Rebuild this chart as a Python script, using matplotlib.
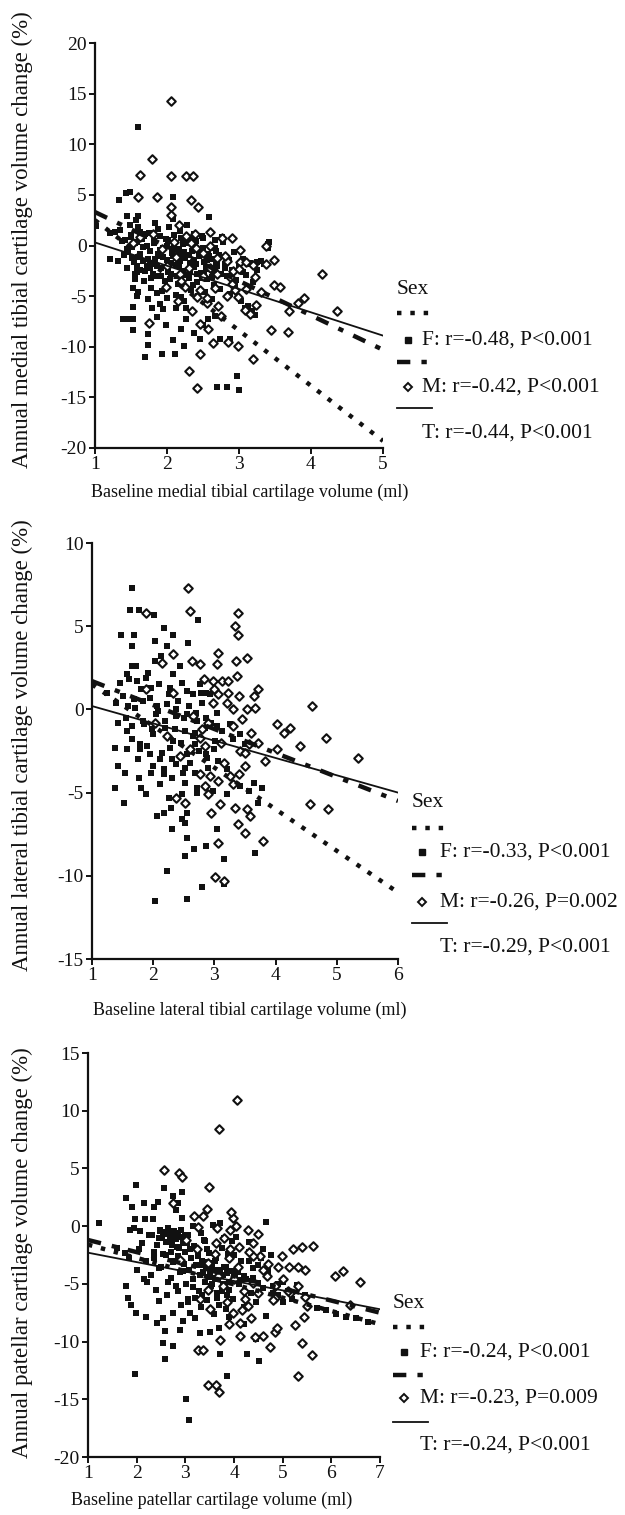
import matplotlib
matplotlib.use("Agg")
import matplotlib.pyplot as plt
from matplotlib.lines import Line2D

plt.rcParams['font.family'] = ['Liberation Serif', 'DejaVu Serif']
plt.rcParams['axes.unicode_minus'] = False

# ---------------- DATA ----------------
sex_groups = ["F", "M", "T"]

# Panel 1: medial tibial
p1_xlabel = "Baseline medial tibial cartilage volume (ml)"
p1_ylabel = "Annual medial tibial cartilage volume change (%)"
p1_xticks = [1, 2, 3, 4, 5]
p1_yticks = [-20, -15, -10, -5, 0, 5, 10, 15, 20]
p1_stats = ["F: r=-0.48, P<0.001", "M: r=-0.42, P<0.001", "T: r=-0.44, P<0.001"]
p1_fit_x = [1, 5]
p1_fit_F = [2.5, -19.3]
p1_fit_M = [3.3, -10.3]
p1_fit_T = [0.3, -8.9]
p1_F_x = [1.6, 1.43, 1.48, 1.34, 2.09, 1.44, 1.6, 1.02, 1.21, 1.28, 1.21, 1.32, 1.37, 1.58, 1.53, 1.58,
          1.53, 1.53, 1.39, 1.45, 1.53, 1.74, 1.74, 1.69, 1.93, 2.11, 2.09, 2.23, 2.2, 1.99, 1.86, 1.95,
          1.79, 2.13, 2.27, 2.2, 2.37, 2.46, 2.5, 2.83, 2.7, 3.0, 2.97, 2.74, 2.88, 2.57, 2.67, 2.27,
          1.86, 1.81,
          1.35, 1.42, 1.45, 1.5, 1.52, 1.55, 1.58, 1.6, 1.62, 1.65, 1.67, 1.7, 1.72, 1.75, 1.77, 1.8,
          1.82, 1.85, 1.87, 1.9, 1.92, 1.95, 1.97, 2.0, 2.02, 2.05, 2.07, 2.1, 2.12, 2.15, 2.17, 2.2,
          2.22, 2.25, 2.27, 2.3, 2.32, 2.35, 2.37, 2.4, 2.42, 2.45, 2.47, 2.5, 2.52, 2.55, 2.57, 2.6,
          2.62, 2.65, 2.68, 2.7, 2.72, 2.75, 2.78, 2.8, 2.83, 2.86, 2.9, 2.93, 2.96, 3.0, 3.05, 3.1,
          3.15, 3.2, 3.25, 3.4, 3.4, 1.4, 1.48, 1.57, 1.63, 1.68, 1.78, 1.83, 1.88, 1.93, 2.03, 2.08,
          2.13, 2.18, 2.23, 2.28, 2.33, 2.38, 2.43, 2.48, 2.53, 2.58, 2.63, 2.67, 2.73, 2.77, 2.88,
          3.03, 3.08, 3.12, 3.22, 3.18, 2.0, 1.9, 1.73, 1.6, 1.55, 1.45]
p1_F_y = [11.7, 5.2, 5.3, 4.5, 4.8, 2.9, 2.9, 1.9, 1.2, 1.3, -1.3, -1.5, 0.4, -2.6, -4.2, -5.0,
          -6.1, -7.3, -7.3, -7.3, -8.3, -8.7, -9.8, -11.0, -10.7, -10.7, -9.3, -9.9, -8.2, -7.9, -7.1, -6.3,
          -6.2, -6.2, -6.2, -5.1, -8.6, -9.2, -7.9, -14.0, -14.0, -14.3, -12.9, -9.2, -9.2, -7.3, -7.0, -7.3,
          -4.7, -2.8,
          1.5, 0.5, -0.3, 1.0, -1.2, 0.2, -2.0, 1.8, -0.8, 0.6, -1.5, -2.5, 0.0, 1.2, -0.5, -1.8,
          0.4, -3.0, -1.0, 0.9, -2.2, -0.2, -3.5, -1.4, 0.5, -2.8, -0.7, 1.0, -1.9, -3.8, -0.3, 0.7,
          -2.5, -1.2, 0.2, -3.2, -1.7, -0.5, -2.1, 0.4, -3.6, -1.0, -2.7, -0.2, -1.6, -3.3, -0.8, -2.3,
          -1.3, -3.9, -0.5, -2.0, -1.1, -2.8, 0.3, -1.8, -3.0, -1.4, -2.4, -0.6, -3.4, -2.0, -1.3, -2.9,
          -1.7, -3.6, -1.6, 0.1, -0.2, -0.9, 2.0, 2.5, 1.3, -3.5, -4.2, 2.2, 1.6, -4.5, 1.8, 2.6,
          -4.9, 1.4, -5.5, 2.0, -4.4, 1.1, -5.0, 0.9, -4.6, 2.8, -5.3, 0.5, -4.3, 0.8, -4.8,
          -5.5, -6.2, -6.0, -6.9, -6.5, -5.2, -5.8, -5.3, -4.6, -3.3, -2.2]
p1_F_x2 = [1.46, 1.50, 1.54, 1.58, 1.62, 1.66, 1.70, 1.74,
           1.78, 1.82, 1.86, 1.90, 1.94, 1.98, 2.02, 2.06,
           2.10, 2.14, 2.18, 2.22, 2.26, 2.30, 2.34, 2.38,
           2.42, 2.46, 2.50, 2.54, 2.58, 2.62, 2.66, 2.70,
           1.52, 1.60, 1.68, 1.76, 1.84, 1.92, 2.00, 2.08,
           2.16, 2.24, 2.32, 2.40, 2.48, 2.56, 2.64, 2.72,
           2.80, 2.95, 3.05, 3.15, 3.25, 3.30, 1.56, 1.72,
           1.88, 2.04, 2.20, 2.36, 2.52, 2.68, 3.35, 3.42]
p1_F_y2 = [-0.6, 0.8, -1.6, 0.3, -2.4, -0.1, 1.1, -1.3,
           -3.2, 0.2, -2.0, -0.4, -1.1, 0.6, -2.6, -1.7,
           -0.1, -3.0, -1.5, 0.1, -2.9, -0.9, 0.5, -1.4,
           -2.8, -0.4, 0.7, -2.2, -1.0, -3.1, -0.2, -1.5,
           -0.1, -1.1, 0.9, -2.2, -1.3, -3.0, 0.0, -1.0,
           -2.0, -0.6, -2.6, -1.8, -3.2, -1.4, -2.6, -0.9,
           -2.2, -3.8, -2.6, -1.8, -2.4, -1.5, -2.8, -2.0,
           -0.8, -3.3, -0.9, -3.9, -2.7, -1.9, -1.8, 0.3]
p1_M_x = [2.05, 1.79, 1.63, 2.05, 2.27, 2.36, 1.6, 1.86, 2.06, 2.06, 2.33, 2.43, 2.17, 2.6, 2.39, 2.77,
          2.9, 3.01, 3.01, 3.1, 3.38, 3.48, 3.38, 3.22, 3.48, 3.57, 4.15, 4.36, 3.9, 3.82, 3.69, 3.68,
          3.45, 3.2, 2.99, 2.46, 2.3, 2.42, 2.85, 2.46, 2.57, 2.64, 2.99, 2.83, 2.71, 1.75, 3.08, 3.24,
          2.67, 2.87, 2.46, 2.18, 1.99, 2.27, 2.34, 2.13, 1.93, 2.5, 2.69, 2.83, 1.81, 1.63, 1.53, 2.6,
          2.92, 2.25, 2.41, 2.55,
          2.0, 2.1, 2.2, 2.3, 2.4, 2.5, 2.6, 2.7, 2.8, 2.9, 3.0, 3.1, 3.2, 3.3, 2.15, 2.35,
          2.55, 2.75, 2.95, 3.15]
p1_M_y = [14.3, 8.5, 7.0, 6.9, 6.9, 6.9, 4.8, 4.8, 3.8, 3.0, 4.5, 3.8, 2.0, 1.3, 1.1, 0.7,
          0.7, -0.4, -1.6, -1.6, -1.8, -1.4, 0.0, -3.1, -3.9, -4.1, -2.8, -6.5, -5.2, -5.7, -6.5, -8.5,
          -8.3, -11.2, -9.9, -10.7, -12.4, -14.1, -9.5, -7.8, -8.2, -9.6, -5.1, -5.0, -6.0, -7.7, -6.4, -5.9,
          -4.2, -3.1, -4.4, -2.8, -4.1, 0.9, 0.2, -1.1, -0.3, -0.7, -1.2, -1.5, 1.1, 0.8, 0.2, -2.2,
          -2.5, -4.1, -5.1, -5.7,
          -2.0, 0.3, -3.5, -2.2, -0.2, -3.0, 0.0, -2.8, -1.0, -3.8, -2.3, -4.3, -1.9, -4.6, -5.5, -6.5,
          -5.2, -7.0, -4.4, -6.8]

# Panel 2: lateral tibial
p2_xlabel = "Baseline lateral tibial cartilage volume (ml)"
p2_ylabel = "Annual lateral tibial cartilage volume change (%)"
p2_xticks = [1, 2, 3, 4, 5, 6]
p2_yticks = [-15, -10, -5, 0, 5, 10]
p2_stats = ["F: r=-0.33, P<0.001", "M: r=-0.26, P=0.002", "T: r=-0.29, P<0.001"]
p2_fit_x = [1, 6]
p2_fit_F = [1.5, -11.0]
p2_fit_M = [1.7, -5.5]
p2_fit_T = [0.2, -5.0]
p2_F_x = [1.66, 1.62, 1.76, 2.02, 2.74, 1.47, 1.68, 2.18, 2.33, 2.57, 1.65, 2.03, 2.23, 1.66, 2.03, 2.44,
          2.47, 1.57, 1.46, 1.73, 1.97, 1.24, 1.4, 1.59, 1.84, 2.06, 2.22, 2.38, 2.55, 2.71, 2.87, 1.43,
          1.65, 1.84, 2.0, 2.19, 2.33, 2.52, 2.68, 1.38, 1.57, 1.78, 1.95, 2.11, 2.27, 2.38, 2.55, 1.43,
          1.54, 1.77, 1.97, 2.17, 2.3, 2.52, 2.68, 1.38, 1.52, 1.8, 1.89, 2.11, 2.25, 2.06, 2.17, 2.29,
          2.47, 2.55, 2.47, 2.52, 2.3, 3.04, 3.2, 3.42, 3.56, 3.64, 3.77, 3.72, 2.52, 2.66, 2.87, 3.16,
          2.22, 2.79, 2.03, 2.55, 3.66, 3.16, 2.76, 2.87, 2.65, 3.04, 3.12, 3.25, 3.42, 3.01, 2.87, 3.06,
          3.2, 2.98, 2.71, 2.55]
p2_F_y = [7.3, 6.0, 6.0, 5.7, 5.4, 4.5, 4.5, 4.9, 4.5, 4.0, 3.8, 4.1, 3.8, 2.6, 2.9, 2.6,
          1.6, 2.1, 1.6, 1.7, 1.3, 1.0, 0.4, 0.2, 0.5, 0.2, 0.3, 0.0, -0.3, -0.7, -0.5, -0.8,
          -1.0, -0.7, -1.5, -1.1, -1.9, -1.3, -2.1, -2.3, -2.4, -2.4, -2.7, -3.0, -2.3, -3.3, -2.7, -3.4,
          -3.8, -4.1, -3.8, -3.9, -4.1, -3.5, -3.8, -4.7, -5.6, -4.7, -5.1, -4.5, -5.3, -6.4, -6.2, -5.9,
          -5.1, -6.2, -6.6, -6.8, -7.2, -7.2, -5.1, -4.6, -4.9, -4.4, -4.7, -5.6, -8.8, -8.4, -8.2, -9.0,
          -9.7, -10.7, -11.5, -11.4, -8.6, -10.5, 1.5, 1.0, 0.9, -0.2, -1.3, -0.9, -1.5, -1.9, -2.7, -3.1,
          -3.6, -4.9, -4.7, -7.7]
p2_F_x2 = [1.50, 1.55, 1.60, 1.65, 1.70, 1.75, 1.80, 1.85,
           1.90, 1.95, 2.00, 2.05, 2.10, 2.15, 2.20, 2.25,
           2.30, 2.35, 2.40, 2.45, 2.50, 2.55, 2.60, 2.65,
           2.70, 2.75, 2.80, 2.85, 2.90, 2.95, 3.00, 3.05,
           1.58, 1.68, 1.78, 1.88, 1.98, 2.08, 2.18, 2.28,
           2.38, 2.48, 2.58, 2.68, 2.78, 2.88, 3.10, 3.30,
           1.72, 1.92, 2.12, 2.32, 2.52, 2.72, 2.92, 3.50]
p2_F_y2 = [0.8, -0.5, 1.8, -1.8, 0.1, -3.0, 1.2, -0.9,
           -2.2, 0.7, -3.4, -0.3, 1.5, -2.6, -0.7, 0.9,
           -3.0, -1.2, 0.5, -2.0, -0.5, 1.1, -3.2, -1.6,
           -0.2, -2.5, 0.4, -1.1, -3.5, -0.8, -2.4, -1.0,
           -1.3, 0.6, -2.1, 1.9, -1.2, -0.1, -3.6, 1.3,
           -0.4, -3.8, 0.2, -1.4, 1.0, -2.9, -2.0, -1.8,
           2.6, 2.2, 3.2, 2.1, -4.4, -5.0, 0.9, -2.1]
p2_M_x = [2.57, 2.6, 3.39, 3.34, 3.39, 1.89, 3.06, 3.05, 3.36, 3.54, 3.37, 2.32, 2.14, 2.76, 2.63, 2.83,
          2.98, 3.12, 3.23, 2.33, 3.23, 3.06, 2.98, 3.72, 3.64, 3.53, 3.67, 3.31, 4.02, 4.13, 4.24, 4.59,
          4.83, 4.4, 5.35, 4.02, 3.83, 3.72, 3.56, 3.42, 3.5, 3.41, 3.31, 3.06, 2.93, 2.76, 2.85, 2.9,
          2.38, 2.52, 3.09, 2.94, 3.34, 3.53, 3.58, 3.39, 3.5, 3.8, 3.06, 3.01, 3.16, 4.57, 4.85, 2.03,
          1.89, 2.65, 2.79, 2.22, 2.44, 2.6, 2.76,
          2.9, 3.0, 3.1, 3.2, 3.3, 3.4, 3.5, 3.6, 2.85, 3.15, 3.45, 3.25]
p2_M_y = [7.3, 5.9, 5.8, 5.0, 4.5, 5.8, 3.4, 2.7, 2.9, 3.1, 2.0, 3.3, 2.8, 2.7, 2.9, 1.8,
          1.7, 1.7, 1.7, 1.0, 1.0, 0.9, 0.4, 1.2, 0.8, 0.0, 0.1, 0.0, -0.9, -1.4, -1.1, 0.2,
          -1.7, -2.2, -2.9, -2.4, -3.1, -2.0, -2.1, -2.5, -3.4, -3.9, -4.5, -4.3, -4.0, -3.9, -4.6, -5.1,
          -5.3, -5.6, -5.7, -6.2, -5.9, -6.0, -6.4, -6.9, -7.4, -7.9, -8.0, -10.1, -10.3, -5.7, -6.0, -0.8,
          1.2, -0.4, -1.2, -1.6, -2.8, -2.4, -1.7,
          -0.8, 1.2, -2.0, 0.4, -1.0, 0.8, -2.6, -1.4, -2.2, -3.2, -0.6, -4.0]

# Panel 3: patellar
p3_xlabel = "Baseline patellar cartilage volume (ml)"
p3_ylabel = "Annual patellar cartilage volume change (%)"
p3_xticks = [1, 2, 3, 4, 5, 6, 7]
p3_yticks = [-20, -15, -10, -5, 0, 5, 10, 15]
p3_stats = ["F: r=-0.24, P<0.001", "M: r=-0.23, P=0.009", "T: r=-0.24, P<0.001"]
p3_fit_x = [1, 7]
p3_fit_F = [-1.6, -8.5]
p3_fit_M = [-1.2, -7.5]
p3_fit_T = [-2.3, -7.2]
p3_F_x = [1.23, 1.99, 1.78, 1.9, 1.96, 1.86, 2.06, 2.18, 2.15, 2.35, 2.44, 2.56, 2.34, 2.75, 2.94, 2.85,
          2.8, 2.94, 2.47, 2.65, 2.78, 2.95, 3.16, 3.33, 3.56, 3.71, 4.66, 1.79, 1.82, 1.89, 1.99, 2.2,
          2.41, 2.58, 2.54, 2.58, 2.75, 1.97, 3.02, 3.07, 3.5, 3.85, 3.72, 4.26, 4.52,
          2.1, 2.2, 2.25, 2.3, 2.35, 2.4, 2.45, 2.5, 2.55, 2.6, 2.62, 2.65, 2.7, 2.72, 2.75, 2.78,
          2.8, 2.82, 2.85, 2.88, 2.9, 2.92, 2.95, 2.98, 3.0, 3.02, 3.05, 3.08, 3.1, 3.12, 3.15, 3.18,
          3.2, 3.22, 3.25, 3.28, 3.3, 3.33, 3.35, 3.38, 3.4, 3.43, 3.45, 3.48, 3.5, 3.53, 3.55, 3.58,
          3.6, 3.63, 3.65, 3.68, 3.7, 3.73, 3.75, 3.78, 3.8, 3.83, 3.85, 3.88, 3.9, 3.93, 3.95, 3.98,
          4.0, 4.05, 4.1, 4.15, 4.2, 4.25, 4.3, 4.35, 4.4, 4.45, 4.5, 4.55, 4.6, 4.65, 4.7, 4.75,
          4.8, 4.9, 5.0, 5.1, 5.2, 5.3, 5.45, 5.7, 5.9, 6.1, 6.3, 6.5, 6.75, 1.6, 1.75, 1.85,
          2.0, 2.05, 1.95, 2.15, 2.45, 2.55, 2.75, 2.95, 3.2, 3.3, 3.7, 3.9, 4.2, 4.45, 2.9, 3.05]
p3_F_y = [0.3, 3.6, 2.4, 1.7, 0.6, -0.3, -0.4, 0.6, 2.0, 1.7, 2.1, 3.3, 0.6, 2.6, 3.0, 2.0,
          1.4, 0.7, -0.4, -0.4, -0.6, -0.9, 0.0, -0.6, 0.1, 0.3, 0.4, -5.2, -6.2, -6.8, -7.5, -7.9,
          -8.4, -9.1, -10.1, -11.5, -10.4, -12.8, -15.0, -16.8, -9.2, -13.0, -11.1, -11.1, -11.7,
          -1.5, -3.0, -0.8, -4.2, -2.2, -5.5, -1.0, -3.5, -0.5, -2.5, -6.0, -0.7, -4.5, -1.2, -3.0, -0.6,
          -5.2, -1.8, -2.6, -0.9, -4.0, -6.8, -1.5, -3.3, -2.2, -5.0, -0.8, -3.8, -7.5, -2.8, -4.6, -1.7,
          -6.2, -3.4, -2.4, -5.6, -4.2, -7.0, -3.0, -1.2, -4.8, -3.6, -6.4, -2.3, -4.0, -5.2, -3.2, -7.6,
          -4.5, -2.8, -5.8, -3.8, -6.8, -4.3, -1.9, -5.0, -3.5, -7.2, -4.1, -2.4, -5.5, -3.9, -1.3, -6.3,
          -4.4, -0.9, -5.0, -3.0, -7.0, -4.6, -2.2, -5.8, -3.6, -6.6, -4.9, -2.8, -5.4, -7.8, -3.9, -2.5,
          -5.2, -6.0, -4.8, -5.6, -6.3, -5.1, -6.0, -7.1, -7.3, -7.6, -7.9, -8.0, -8.3, -1.9, -2.3, -2.8,
          -3.8, -2.0, -0.2, -4.6, -6.5, -8.0, -7.5, -8.2, -8.0, -9.3, -8.8, -7.9, -8.5, -9.8, -9.0, -6.3]
p3_F_x2 = [2.48, 2.52, 2.56, 2.60, 2.64, 2.68, 2.72, 2.76,
           2.80, 2.84, 2.88, 2.92, 2.96, 3.00, 3.04, 2.70,
           3.30, 3.36, 3.42, 3.48, 3.54, 3.60, 3.66, 3.72,
           3.78, 3.84, 3.90, 3.96, 4.02, 4.08, 4.14, 4.20,
           2.35, 2.45, 2.55, 2.65, 2.75, 2.85, 2.95, 3.05,
           3.15, 3.25, 3.35, 3.45, 3.55, 3.65, 3.75, 3.85,
           4.30, 4.40, 4.50, 4.60, 4.70, 4.80, 4.90, 5.00,
           2.22, 2.32, 2.42, 3.10, 3.40, 3.80, 4.00, 4.30]
p3_F_y2 = [-0.3, -1.0, -0.6, -1.4, -0.2, -0.9, -1.6, -0.4,
           -1.1, -0.7, -1.9, -0.3, -1.2, -0.8, -1.5, -2.2,
           -3.4, -4.0, -3.1, -4.4, -3.6, -3.0, -4.6, -3.8,
           -4.2, -3.5, -4.8, -3.9, -4.4, -4.0, -4.7, -4.3,
           -2.8, -3.6, -2.4, -4.8, -3.1, -5.6, -3.9, -6.6,
           -5.3, -2.6, -6.0, -2.0, -5.0, -6.2, -5.6, -6.0,
           -3.0, -4.5, -3.4, -2.0, -4.2, -5.8, -5.0, -6.6,
           -4.8, -0.8, -1.6, -2.0, -1.3, -1.0, -2.5, -1.4]
p3_M_x = [4.07, 3.69, 2.56, 2.87, 2.93, 3.49, 3.45, 2.75, 3.17, 3.37, 3.98, 3.93, 4.29, 4.5, 4.4, 4.05,
          3.65, 3.92, 5.22, 5.39, 5.62, 6.08, 6.25, 6.59, 6.38, 5.46, 5.32, 5.12, 4.91, 4.7, 4.53, 4.4,
          4.98, 5.32, 5.46, 5.49, 5.15, 4.84, 4.67, 4.84, 5.25, 5.44, 5.39, 5.6, 5.32, 4.74, 4.6, 4.44,
          4.85, 4.89, 4.12, 3.9, 4.12, 3.98, 3.85, 4.16, 4.29, 4.23, 3.71, 3.26, 3.37, 3.47, 3.64, 3.7,
          3.67, 3.47, 3.23, 3.02, 3.26, 3.64, 3.92, 4.09, 4.4, 3.3, 3.47, 3.78, 2.89,
          3.8, 3.9, 4.0, 4.1, 4.2, 4.3, 4.5, 4.6, 4.8, 5.0, 5.1, 4.35, 3.6, 3.5]
p3_M_y = [10.9, 8.4, 4.9, 4.6, 4.3, 3.4, 1.5, 2.0, 0.9, 0.9, 0.7, 1.2, -0.3, -0.7, -1.5, 0.0,
          -0.2, -0.3, -2.0, -1.8, -1.7, -4.3, -3.9, -4.8, -6.8, -3.8, -3.5, -3.5, -3.5, -3.3, -2.6, -2.6,
          -2.6, -5.2, -6.1, -6.9, -5.8, -6.2, -4.3, -5.2, -8.6, -7.9, -10.1, -11.2, -13.0, -10.5, -9.5, -9.6,
          -9.2, -8.8, -9.5, -8.5, -8.4, -7.5, -6.6, -7.3, -6.9, -6.3, -9.9, -10.7, -10.7, -13.8, -13.8, -14.4,
          -4.3, -3.2, -2.0, -1.2, -0.1, -1.5, -2.0, -3.5, -4.9, -6.3, -5.5, -5.2, -2.9,
          -1.0, -2.8, -4.6, -1.8, -5.6, -2.2, -5.8, -3.8, -6.4, -4.6, -5.6, -8.0, -2.4, -7.2]

# ---------------- LAYOUT ----------------
W, H = 625, 1515
fig = plt.figure(figsize=(6.25, 15.15), dpi=100)


def fx(px):
    return px / W


def fy(py):
    return 1 - py / H


FS_TICK = 14
FS_YLAB = 16.5
FS_XLAB = 13
FS_LEG = 15.5
INK = '#111111'
F_DASH = (0, (1, 2))
M_DASH = (0, (3, 2.5, 1.2, 2.5))

panels = [
    dict(box=(95, 383, 43, 448), xt=p1_xticks, yt=p1_yticks, xl=p1_xlabel, yl=p1_ylabel,
         ylab_c=240, xlab_pos=(250, 492), fx_=p1_fit_x, fF=p1_fit_F, fM=p1_fit_M, fT=p1_fit_T,
         Fx=p1_F_x + p1_F_x2, Fy=p1_F_y + p1_F_y2, Mx=p1_M_x, My=p1_M_y, stats=p1_stats,
         leg=(397, 408, 422, [290, 313, 340, 362, 387, 408, 433])),
    dict(box=(92, 398, 543, 959), xt=p2_xticks, yt=p2_yticks, xl=p2_xlabel, yl=p2_ylabel,
         ylab_c=745, xlab_pos=(250, 1010), fx_=p2_fit_x, fF=p2_fit_F, fM=p2_fit_M, fT=p2_fit_T,
         Fx=p2_F_x + p2_F_x2, Fy=p2_F_y + p2_F_y2, Mx=p2_M_x, My=p2_M_y, stats=p2_stats,
         leg=(412, 422, 440, [803, 828, 852, 875, 902, 923, 947])),
    dict(box=(88, 380, 1053, 1457), xt=p3_xticks, yt=p3_yticks, xl=p3_xlabel, yl=p3_ylabel,
         ylab_c=1253, xlab_pos=(212, 1500), fx_=p3_fit_x, fF=p3_fit_F, fM=p3_fit_M, fT=p3_fit_T,
         Fx=p3_F_x + p3_F_x2, Fy=p3_F_y + p3_F_y2, Mx=p3_M_x, My=p3_M_y, stats=p3_stats,
         leg=(393, 404, 420, [1303, 1327, 1352, 1375, 1398, 1422, 1445])),
]

for p in panels:
    l, r, t, b = p["box"]
    ax = fig.add_axes([fx(l), fy(b), (r - l) / W, (b - t) / H])
    ax.scatter(p["Fx"], p["Fy"], marker='s', s=19, c=INK, linewidths=0, zorder=2)
    ax.scatter(p["Mx"], p["My"], marker='D', s=19, facecolors='white', edgecolors=INK,
               linewidths=1.5, zorder=3)
    ax.plot(p["fx_"], p["fF"], color=INK, lw=3.2, linestyle=F_DASH, zorder=4)
    ax.plot(p["fx_"], p["fM"], color=INK, lw=3.2, linestyle=M_DASH, zorder=4)
    ax.plot(p["fx_"], p["fT"], color=INK, lw=1.3, linestyle='-', zorder=4)
    ax.set_xlim(p["xt"][0], p["xt"][-1])
    ax.set_ylim(p["yt"][0], p["yt"][-1])
    ax.set_xticks(p["xt"])
    ax.set_yticks(p["yt"])
    for s in ['top', 'right']:
        ax.spines[s].set_visible(False)
    for s in ['left', 'bottom']:
        ax.spines[s].set_linewidth(1.6)
        ax.spines[s].set_color(INK)
    ax.tick_params(direction='out', length=4, width=1.4, labelsize=FS_TICK, pad=2, colors=INK)

    fig.text(fx(22), fy(p["ylab_c"]), p["yl"], rotation=90, ha='center', va='center',
             fontsize=FS_YLAB, color=INK)
    fig.text(fx(p["xlab_pos"][0]), fy(p["xlab_pos"][1]), p["xl"], ha='center', va='center',
             fontsize=FS_XLAB, color=INK)

    x0, xm, xt_, rows = p["leg"]
    fig.text(fx(x0), fy(rows[0]), "Sex", ha='left', va='center', fontsize=FS_LEG, color=INK)
    handles = [(F_DASH, 3.2), (M_DASH, 3.2), ('-', 1.3)]
    for i, (ls, lw) in enumerate(handles):
        yl = rows[1 + 2 * i]
        fig.add_artist(Line2D([fx(x0), fx(x0 + 35)], [fy(yl), fy(yl)], transform=fig.transFigure,
                              color=INK, lw=lw, linestyle=ls))
        yt_ = rows[2 + 2 * i]
        if i == 0:
            fig.add_artist(Line2D([fx(xm)], [fy(yt_)], transform=fig.transFigure, marker='s',
                                  markersize=3.8, color=INK, linestyle='none'))
        elif i == 1:
            fig.add_artist(Line2D([fx(xm)], [fy(yt_)], transform=fig.transFigure, marker='D',
                                  markersize=3.8, markerfacecolor='white', markeredgecolor=INK,
                                  markeredgewidth=1.4, linestyle='none'))
        fig.text(fx(xt_), fy(yt_), p["stats"][i], ha='left', va='center', fontsize=FS_LEG, color=INK)

fig.savefig("out.png", dpi=100, facecolor='white')
